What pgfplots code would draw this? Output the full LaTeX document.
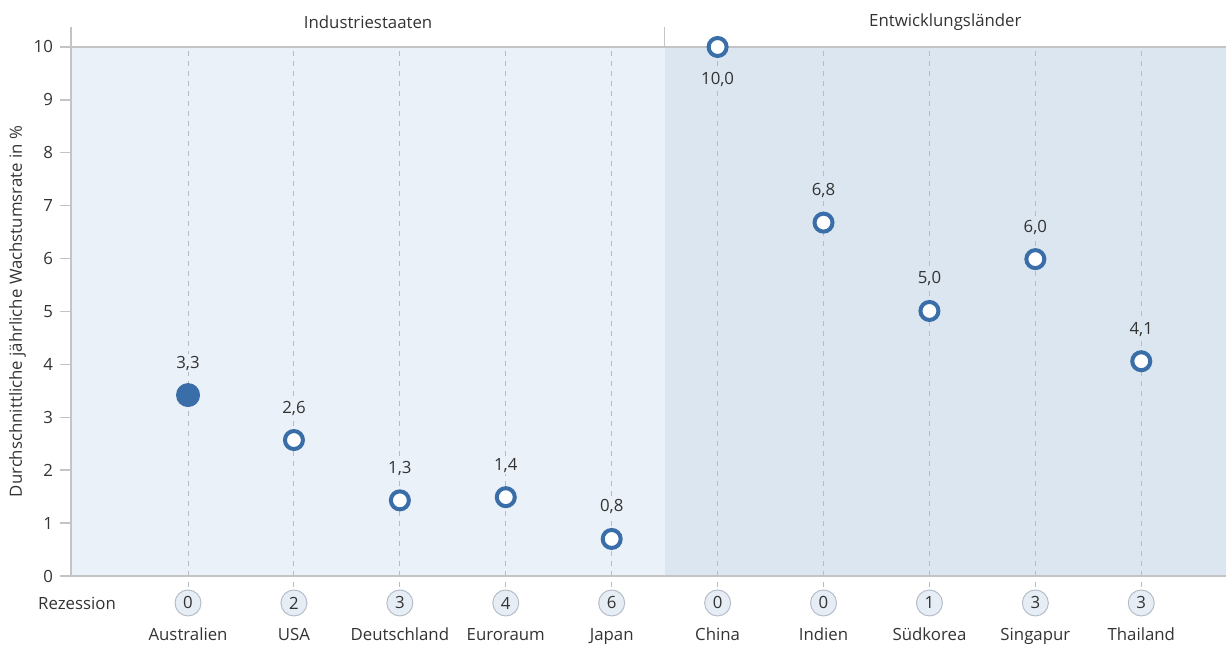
\documentclass[border=0pt]{standalone}
\usepackage{fontspec}
\setmainfont{Open Sans}
\usepackage{pgfplots}
\pgfplotsset{compat=1.18}
\usetikzlibrary{calc}
\definecolor{bgL}{HTML}{EBF1F8}
\definecolor{bgR}{HTML}{DCE6F0}
\definecolor{mk}{HTML}{3A6EA8}
\definecolor{ax}{HTML}{C4C4C4}
\definecolor{txt}{HTML}{333333}
\definecolor{grd}{HTML}{B8BCC2}
\definecolor{rzf}{HTML}{E6EDF5}
\definecolor{rzd}{HTML}{B5BDC8}
\begin{document}
\begin{tikzpicture}[font=\fontsize{8.4}{10}\selectfont]
\begin{axis}[
  set layers,
  scale only axis, width=577.5pt, height=264.5pt,
  xmin=-1.105, xmax=9.8, ymin=0, ymax=10,
  clip=false,
  axis x line*=bottom, axis y line*=left,
  axis line style={draw=ax, line width=0.7pt},
  ytick={0,...,10},
  xtick={0,...,9},
  xticklabels={Australien,USA,Deutschland,Euroraum,Japan,China,Indien,Südkorea,Singapur,Thailand},
  xticklabel style={yshift=-17pt, text=txt},
  yticklabel style={text=txt},
  /pgf/number format/assume math mode=true,
  major tick length=5.5pt,
  tick align=outside,
  ytick style={draw=ax, line width=0.7pt},
  xtick style={draw=grd, line width=0.5pt, dash pattern=on 2.5pt off 2.5pt},
  xmajorgrids,
  grid style={draw=grd, dash pattern=on 2.5pt off 2.5pt, line width=0.5pt},
  ylabel={Durchschnittliche jährliche Wachstumsrate in \%},
  ylabel style={text=txt},
  ylabel shift=-3pt,
  every node near coord/.append style={anchor=center, text=txt, inner sep=1pt},
]
\begin{pgfonlayer}{axis background}
\fill[bgL] (axis cs:-1.105,0) rectangle (axis cs:4.5,10);
\fill[bgR] (axis cs:4.5,0) rectangle (axis cs:9.8,10);
\end{pgfonlayer}
\coordinate (ll) at (rel axis cs:0,0);
\coordinate (ur) at (rel axis cs:1,1);
\draw[ax, line width=0.7pt] (axis cs:-1.105,10) -- (axis cs:9.8,10);
\draw[ax, line width=0.7pt] (axis cs:-1.105,10) -- (axis cs:-1.105,10.378);
\draw[ax, line width=0.7pt] (axis cs:4.5,10) -- (axis cs:4.5,10.378);
\node[text=txt, yshift=12.5pt] at (axis cs:1.7,10) {Industriestaaten};
\node[text=txt, yshift=12.5pt] at (axis cs:7.15,10) {Entwicklungsländer};
\node[text=txt] at (axis cs:-1.048,-0.51) {Rezession};

% Rezession circles
\addplot[only marks, mark=*, mark size=6.5pt,
  mark options={fill=rzf, draw=rzd, line width=0.5pt},
  nodes near coords, point meta=explicit symbolic]
coordinates {
 (0,-0.51) [0] (1,-0.51) [2] (2,-0.51) [3] (3,-0.51) [4] (4,-0.51) [6]
 (5,-0.51) [0] (6,-0.51) [0] (7,-0.51) [1] (8,-0.51) [3] (9,-0.51) [3]
};

% Australien (filled)
\addplot[only marks, mark=*, mark size=5.7pt,
  mark options={fill=mk, draw=mk, line width=0.6pt},
  nodes near coords, point meta=explicit symbolic,
  every node near coord/.append style={yshift=16pt, fill=bgL}]
coordinates {(0,3.42) [3,3]};

% Industriestaaten open
\addplot[only marks, mark=*, mark size=4.5pt,
  mark options={fill=white, draw=mk, line width=2pt},
  nodes near coords, point meta=explicit symbolic,
  every node near coord/.append style={yshift=16pt, fill=bgL}]
coordinates {(1,2.57) [2,6] (2,1.43) [1,3] (3,1.49) [1,4] (4,0.70) [0,8]};

% Entwicklungslaender open
\addplot[only marks, mark=*, mark size=4.5pt,
  mark options={fill=white, draw=mk, line width=2pt},
  nodes near coords, point meta=explicit symbolic,
  every node near coord/.append style={yshift=16pt, fill=bgR}]
coordinates {(6,6.68) [6,8] (7,5.01) [5,0] (8,5.99) [6,0] (9,4.06) [4,1]};

% China (label below)
\addplot[only marks, mark=*, mark size=4.5pt,
  mark options={fill=white, draw=mk, line width=2pt},
  nodes near coords, point meta=explicit symbolic,
  every node near coord/.append style={yshift=-16.5pt, fill=bgR}]
coordinates {(5,10) [10,0]};
\end{axis}
\pgfresetboundingbox
\useasboundingbox ($(ll)+(-35.5pt,-35pt)$) rectangle ($(ur)+(0pt,23.5pt)$);
\end{tikzpicture}
\end{document}
